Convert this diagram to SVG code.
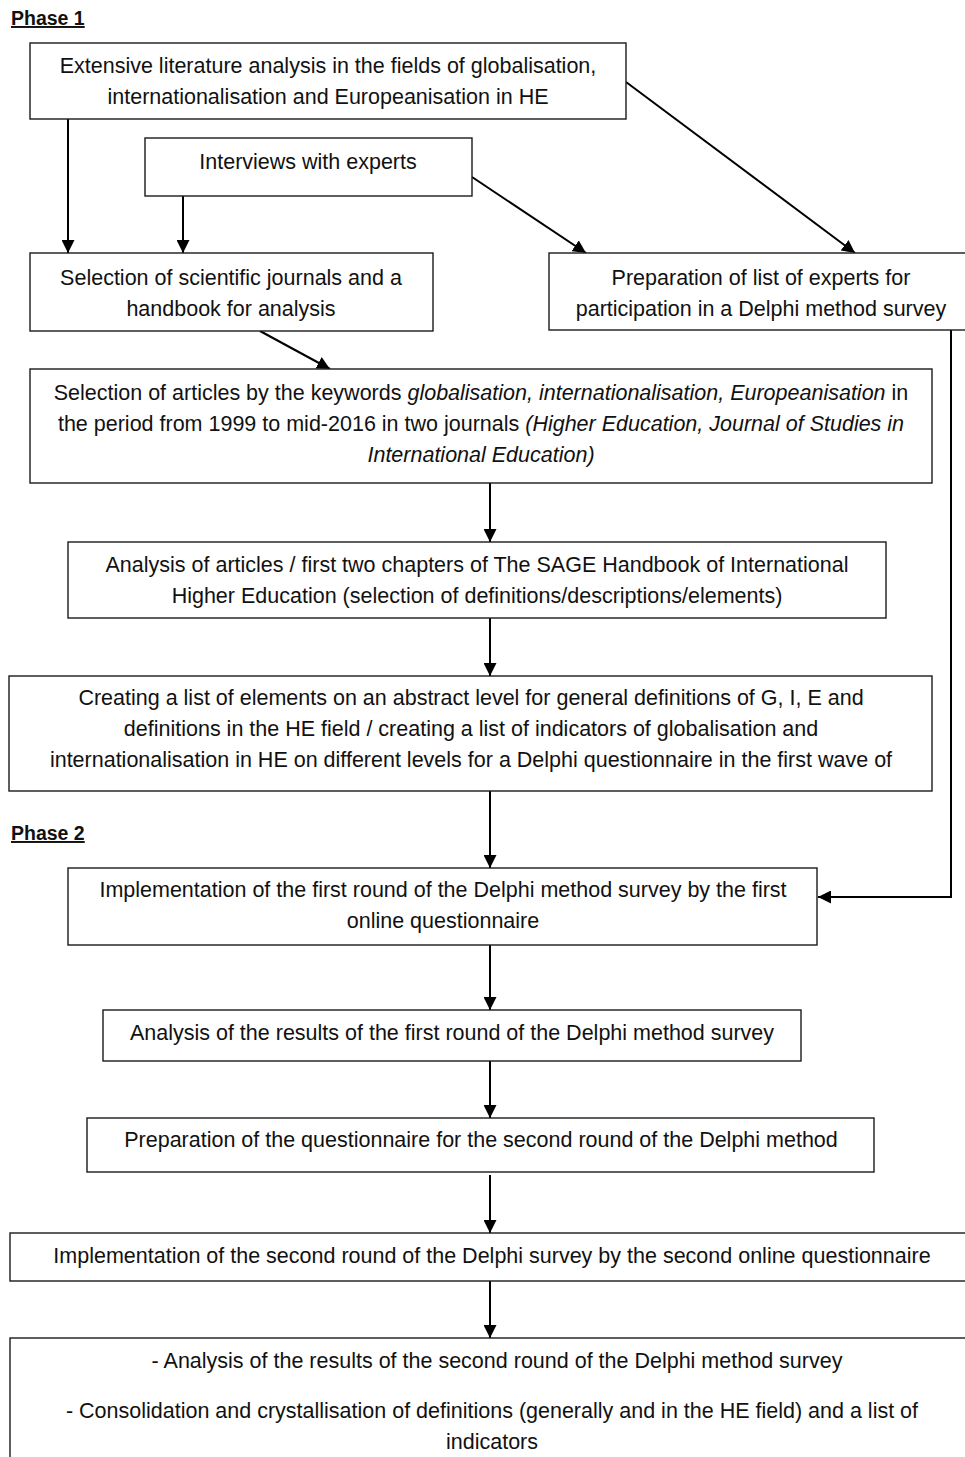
<svg xmlns="http://www.w3.org/2000/svg" width="965" height="1457" viewBox="0 0 965 1457">
<style>
.box{fill:#fff;stroke:#1a1a1a;stroke-width:1.4}
.t{font-family:"Liberation Sans",Arial,sans-serif;font-size:21.5px;fill:#111;text-anchor:middle}
.i{font-style:italic}
.ph{font-family:"Liberation Sans",Arial,sans-serif;font-size:19.5px;font-weight:bold;fill:#111;text-decoration:underline}
.c{fill:none;stroke:#000;stroke-width:2;marker-end:url(#ah)}
</style>
<defs>
<marker id="ah" viewBox="0 0 13 13" refX="13" refY="6.5" markerWidth="13" markerHeight="13" markerUnits="userSpaceOnUse" orient="auto">
<path d="M0,0 L13,6.5 L0,13 z" fill="#000"/>
</marker>
</defs>
<rect width="965" height="1457" fill="#fff"/>
<text class="ph" x="11" y="25">Phase 1</text>
<text class="ph" x="11" y="840">Phase 2</text>
<g id="connectors">
<line class="c" x1="68" y1="119" x2="68" y2="253"/>
<line class="c" x1="183" y1="196" x2="183" y2="253"/>
<line class="c" x1="472" y1="177" x2="586" y2="253"/>
<line class="c" x1="626" y1="82" x2="855" y2="253"/>
<line class="c" x1="260" y1="331" x2="330" y2="369"/>
<line class="c" x1="490" y1="483" x2="490" y2="542"/>
<line class="c" x1="490" y1="618" x2="490" y2="676"/>
<line class="c" x1="490" y1="791" x2="490" y2="868"/>
<polyline class="c" points="951,330 951,897 818,897"/>
<line class="c" x1="490" y1="945" x2="490" y2="1010"/>
<line class="c" x1="490" y1="1061" x2="490" y2="1118"/>
<line class="c" x1="490" y1="1175" x2="490" y2="1233"/>
<line class="c" x1="490" y1="1281" x2="490" y2="1338"/>
</g>
<g id="n1">
<rect class="box" x="30" y="43" width="596" height="76"/>
<text class="t" x="328" y="73">Extensive literature analysis in the fields of globalisation,</text>
<text class="t" x="328" y="104">internationalisation and Europeanisation in HE</text>
</g>
<g id="n2">
<rect class="box" x="145" y="138" width="327" height="58"/>
<text class="t" x="308" y="169">Interviews with experts</text>
</g>
<g id="n3">
<rect class="box" x="30" y="253" width="403" height="78"/>
<text class="t" x="231" y="285">Selection of scientific journals and a</text>
<text class="t" x="231" y="316">handbook for analysis</text>
</g>
<g id="n4">
<rect class="box" x="549" y="253" width="426" height="77"/>
<text class="t" x="761" y="285">Preparation of list of experts for</text>
<text class="t" x="761" y="316">participation in a Delphi method survey</text>
</g>
<g id="n5">
<rect class="box" x="30" y="369" width="902" height="114"/>
<text class="t" x="481" y="400">Selection of articles by the keywords <tspan class="i">globalisation, internationalisation, Europeanisation</tspan> in</text>
<text class="t" x="481" y="431">the period from 1999 to mid-2016 in two journals <tspan class="i">(Higher Education, Journal of Studies in</tspan></text>
<text class="t i" x="481" y="462">International Education)</text>
</g>
<g id="n6">
<rect class="box" x="68" y="542" width="818" height="76"/>
<text class="t" x="477" y="572">Analysis of articles / first two chapters of The SAGE Handbook of International</text>
<text class="t" x="477" y="603">Higher Education (selection of definitions/descriptions/elements)</text>
</g>
<g id="n7">
<rect class="box" x="9" y="676" width="923" height="115"/>
<text class="t" x="471" y="705">Creating a list of elements on an abstract level for general definitions of G, I, E and</text>
<text class="t" x="471" y="736">definitions in the HE field / creating a list of indicators of globalisation and</text>
<text class="t" x="471" y="767">internationalisation in HE on different levels for a Delphi questionnaire in the first wave of</text>
</g>
<g id="n8">
<rect class="box" x="68" y="868" width="749" height="77"/>
<text class="t" x="443" y="897">Implementation of the first round of the Delphi method survey by the first</text>
<text class="t" x="443" y="928">online questionnaire</text>
</g>
<g id="n9">
<rect class="box" x="103" y="1010" width="698" height="51"/>
<text class="t" x="452" y="1040">Analysis of the results of the first round of the Delphi method survey</text>
</g>
<g id="n10">
<rect class="box" x="87" y="1118" width="787" height="54"/>
<text class="t" x="481" y="1147">Preparation of the questionnaire for the second round of the Delphi method</text>
</g>
<g id="n11">
<rect class="box" x="10" y="1233" width="965" height="48"/>
<text class="t" x="492" y="1263">Implementation of the second round of the Delphi survey by the second online questionnaire</text>
</g>
<g id="n12">
<rect class="box" x="10" y="1338" width="965" height="140"/>
<text class="t" x="497" y="1368">- Analysis of the results of the second round of the Delphi method survey</text>
<text class="t" x="492" y="1418">- Consolidation and crystallisation of definitions (generally and in the HE field) and a list of</text>
<text class="t" x="492" y="1449">indicators</text>
</g>
</svg>
